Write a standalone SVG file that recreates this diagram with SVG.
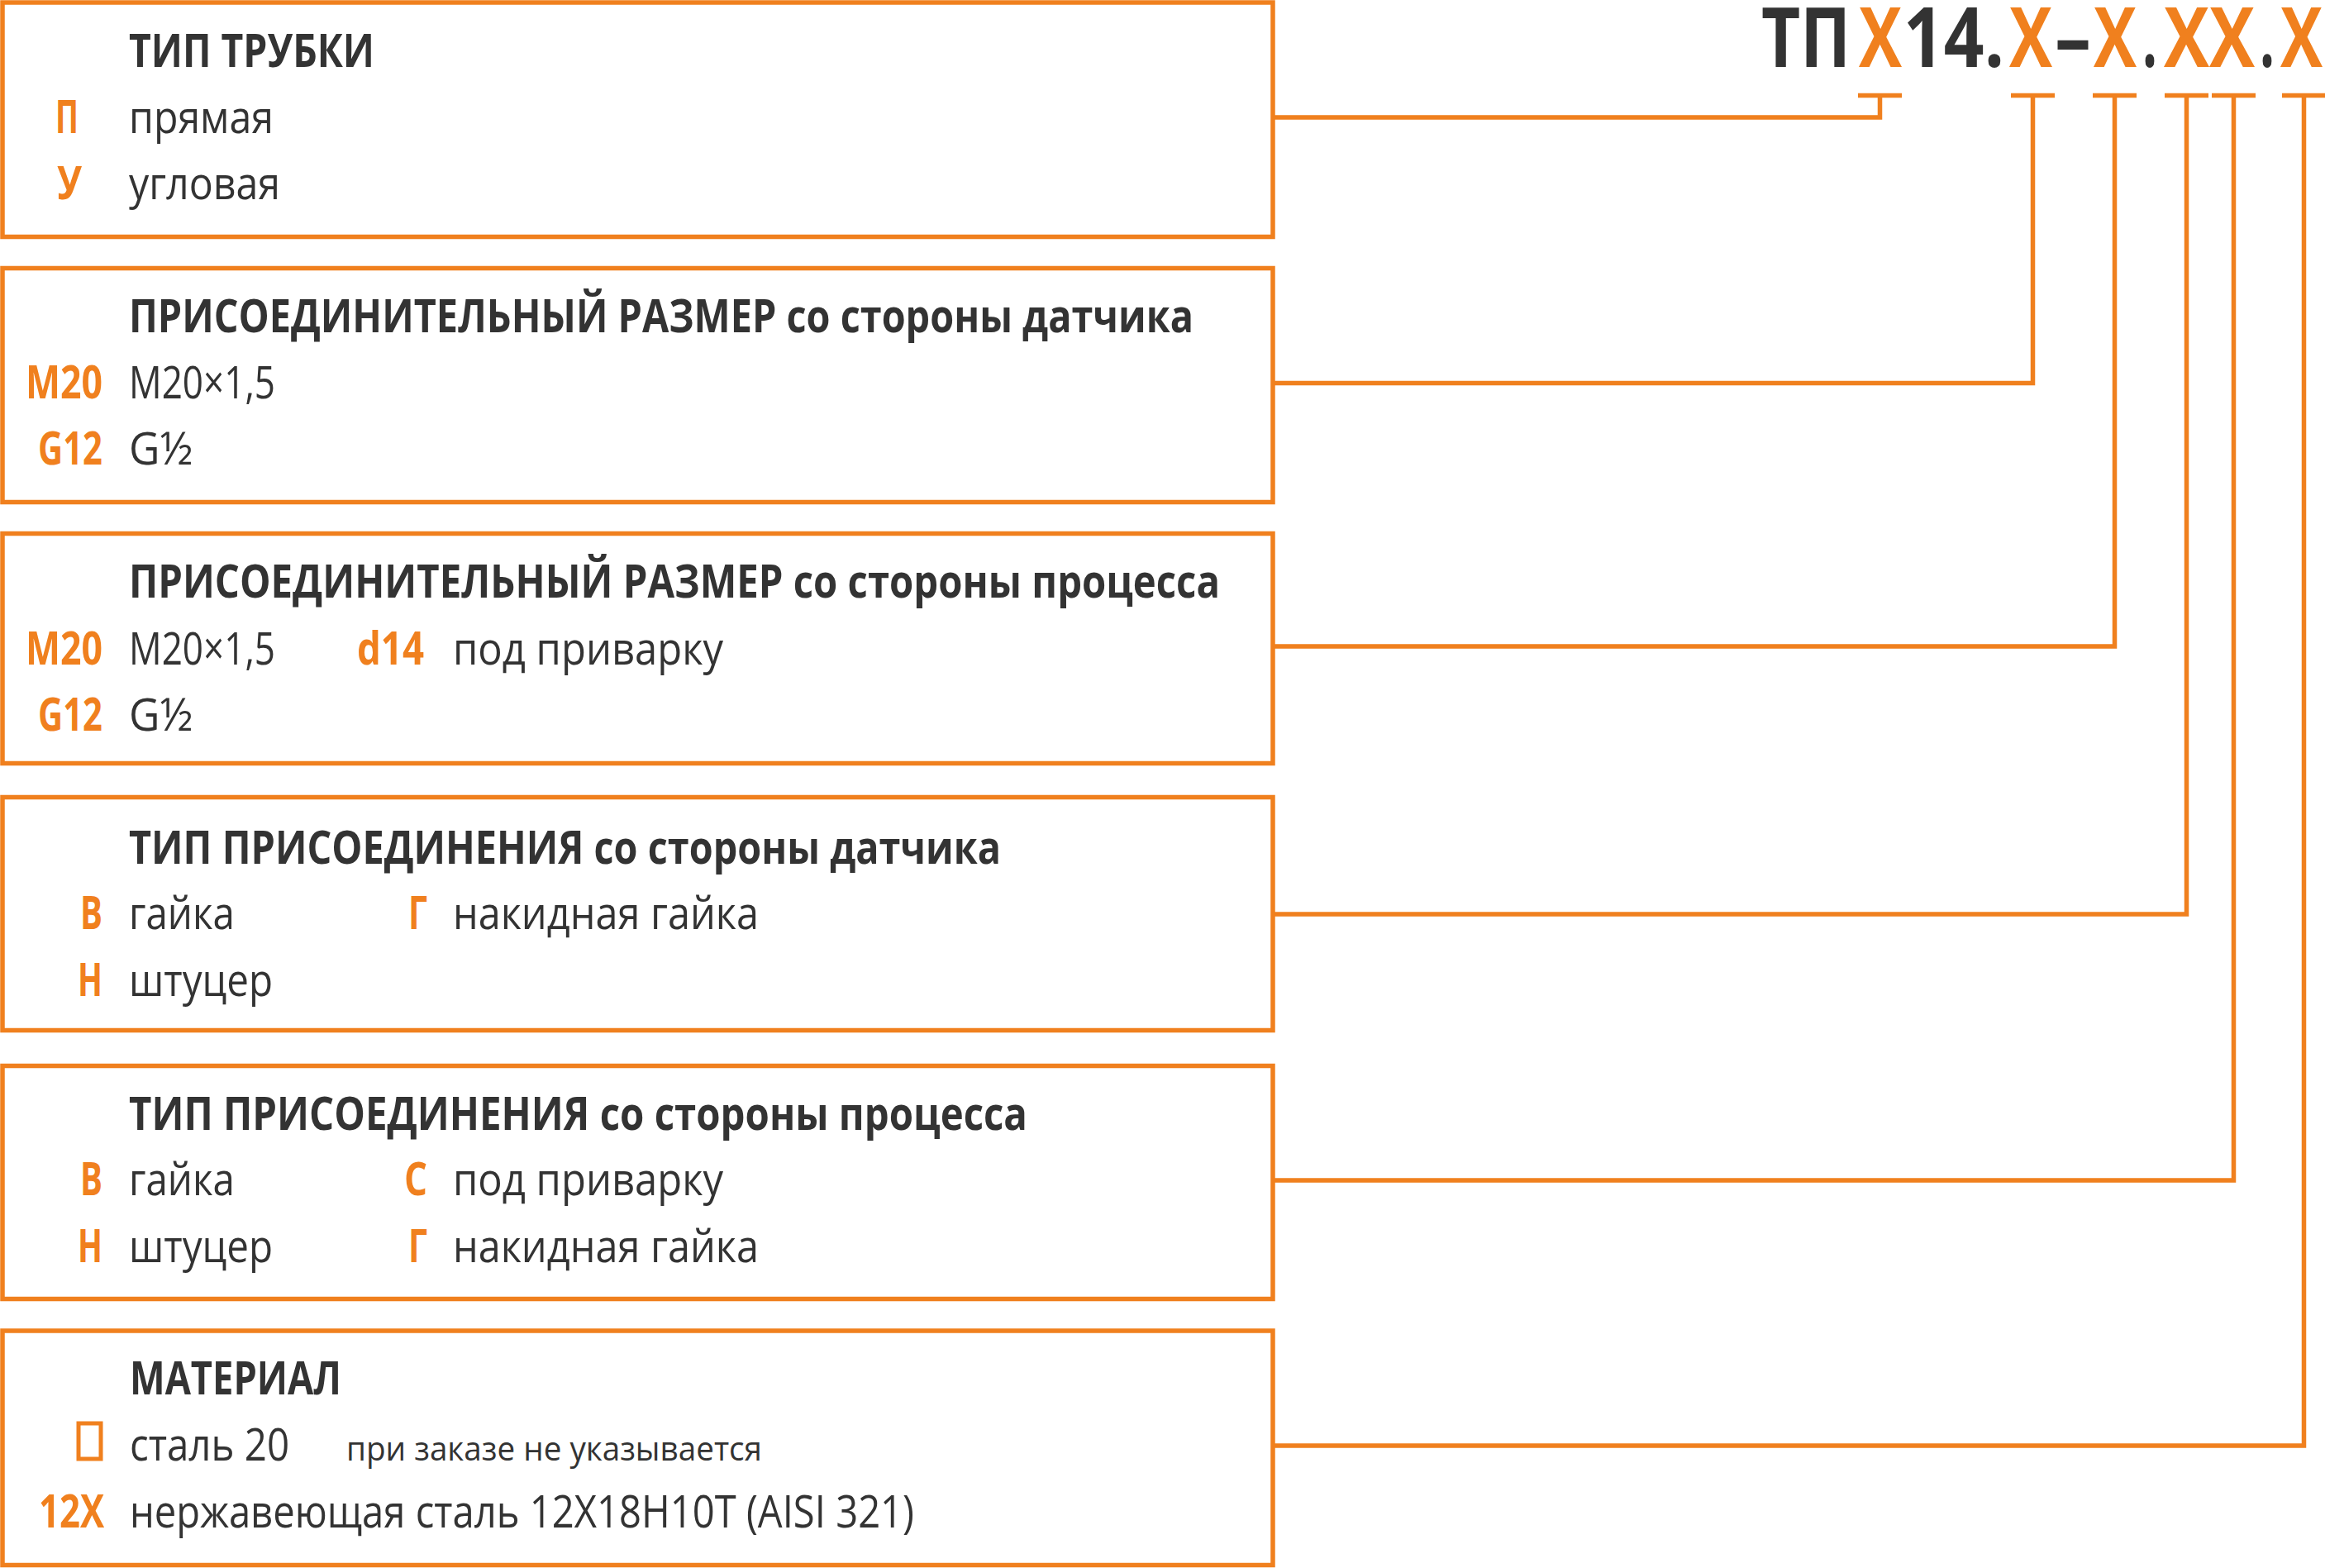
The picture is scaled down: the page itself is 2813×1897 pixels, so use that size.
<svg xmlns="http://www.w3.org/2000/svg" width="2813" height="1897" viewBox="0 0 2813 1897">
<style>
.box{fill:#fff;stroke:#F0801E;stroke-width:5.5}
.ln{fill:none;stroke:#F0801E;stroke-width:5.5}
text{font-family:"Open Sans","Noto Sans","DejaVu Sans",sans-serif;font-size:55px;fill:#333333}
.t{font-weight:bold}
.c{font-weight:bold;fill:#F0801E}
.s{font-size:40px}
.big{font-weight:bold;font-size:100px}
.o{fill:#F0801E}
</style>
<rect width="2813" height="1897" fill="#fff"/>
<g id="code">
<text class="big" x="2131" y="81" textLength="108" lengthAdjust="spacingAndGlyphs">ТП</text>
<text class="big o" x="2249" y="81" textLength="52" lengthAdjust="spacingAndGlyphs">Х</text>
<text class="big" x="2303" y="81" textLength="122" lengthAdjust="spacingAndGlyphs">14.</text>
<text class="big o" x="2431" y="81" textLength="52" lengthAdjust="spacingAndGlyphs">Х</text>
<text class="big" x="2486" y="81" textLength="44" lengthAdjust="spacingAndGlyphs">–</text>
<text class="big o" x="2533" y="81" textLength="52" lengthAdjust="spacingAndGlyphs">Х</text>
<text class="big" x="2592" y="81" textLength="18" lengthAdjust="spacingAndGlyphs">.</text>
<text class="big o" x="2618" y="81" textLength="110" lengthAdjust="spacingAndGlyphs">ХХ</text>
<text class="big" x="2734" y="81" textLength="18" lengthAdjust="spacingAndGlyphs">.</text>
<text class="big o" x="2759" y="81" textLength="51" lengthAdjust="spacingAndGlyphs">Х</text>
</g>
<g id="connectors">
<path class="ln" d="M1540 142H2274.5V115.5M2248 115.5H2301"/>
<path class="ln" d="M1540 463.5H2459.5V115.5M2433 115.5H2486"/>
<path class="ln" d="M1540 782H2558.5V115.5M2532 115.5H2585"/>
<path class="ln" d="M1540 1106H2645.5V115.5M2619 115.5H2672"/>
<path class="ln" d="M1540 1428H2702.5V115.5M2676 115.5H2729"/>
<path class="ln" d="M1540 1749H2787.5V115.5M2761 115.5H2814"/>
</g>
<g id="box1">
<rect class="box" x="3" y="3" width="1537" height="283.5"/>
<text class="t" x="156" y="81" textLength="297" lengthAdjust="spacingAndGlyphs">ТИП ТРУБКИ</text>
<text class="c" x="67" y="161" textLength="28" lengthAdjust="spacingAndGlyphs">П</text>
<text x="156" y="161" textLength="175" lengthAdjust="spacingAndGlyphs">прямая</text>
<text class="c" x="69" y="241" textLength="30" lengthAdjust="spacingAndGlyphs">У</text>
<text x="156" y="241" textLength="183" lengthAdjust="spacingAndGlyphs">угловая</text>
</g>
<g id="box2">
<rect class="box" x="3" y="324.5" width="1537" height="283"/>
<text class="t" x="156" y="402" textLength="1288" lengthAdjust="spacingAndGlyphs">ПРИСОЕДИНИТЕЛЬНЫЙ РАЗМЕР со стороны датчика</text>
<text class="c" x="31" y="482" textLength="93" lengthAdjust="spacingAndGlyphs">M20</text>
<text x="156" y="482" textLength="177" lengthAdjust="spacingAndGlyphs">M20×1,5</text>
<text class="c" x="46" y="562" textLength="78" lengthAdjust="spacingAndGlyphs">G12</text>
<text x="156" y="562" textLength="77" lengthAdjust="spacingAndGlyphs">G½</text>
</g>
<g id="box3">
<rect class="box" x="3" y="645.5" width="1537" height="278"/>
<text class="t" x="156" y="723" textLength="1320" lengthAdjust="spacingAndGlyphs">ПРИСОЕДИНИТЕЛЬНЫЙ РАЗМЕР со стороны процесса</text>
<text class="c" x="31" y="804" textLength="93" lengthAdjust="spacingAndGlyphs">M20</text>
<text x="156" y="804" textLength="177" lengthAdjust="spacingAndGlyphs">M20×1,5</text>
<text class="c" x="432" y="804" textLength="81" lengthAdjust="spacingAndGlyphs">d14</text>
<text x="548" y="804" textLength="327" lengthAdjust="spacingAndGlyphs">под приварку</text>
<text class="c" x="46" y="884" textLength="78" lengthAdjust="spacingAndGlyphs">G12</text>
<text x="156" y="884" textLength="77" lengthAdjust="spacingAndGlyphs">G½</text>
</g>
<g id="box4">
<rect class="box" x="3" y="964.5" width="1537" height="282"/>
<text class="t" x="156" y="1045" textLength="1055" lengthAdjust="spacingAndGlyphs">ТИП ПРИСОЕДИНЕНИЯ со стороны датчика</text>
<text class="c" x="97" y="1124" textLength="27" lengthAdjust="spacingAndGlyphs">В</text>
<text x="156" y="1124" textLength="128" lengthAdjust="spacingAndGlyphs">гайка</text>
<text class="c" x="494" y="1124" textLength="23" lengthAdjust="spacingAndGlyphs">Г</text>
<text x="548" y="1124" textLength="370" lengthAdjust="spacingAndGlyphs">накидная гайка</text>
<text class="c" x="94" y="1205" textLength="30" lengthAdjust="spacingAndGlyphs">Н</text>
<text x="156" y="1205" textLength="174" lengthAdjust="spacingAndGlyphs">штуцер</text>
</g>
<g id="box5">
<rect class="box" x="3" y="1289.5" width="1537" height="282"/>
<text class="t" x="156" y="1367" textLength="1087" lengthAdjust="spacingAndGlyphs">ТИП ПРИСОЕДИНЕНИЯ со стороны процесса</text>
<text class="c" x="97" y="1446" textLength="27" lengthAdjust="spacingAndGlyphs">В</text>
<text x="156" y="1446" textLength="128" lengthAdjust="spacingAndGlyphs">гайка</text>
<text class="c" x="489" y="1446" textLength="28" lengthAdjust="spacingAndGlyphs">С</text>
<text x="548" y="1446" textLength="327" lengthAdjust="spacingAndGlyphs">под приварку</text>
<text class="c" x="94" y="1527" textLength="30" lengthAdjust="spacingAndGlyphs">Н</text>
<text x="156" y="1527" textLength="174" lengthAdjust="spacingAndGlyphs">штуцер</text>
<text class="c" x="494" y="1527" textLength="23" lengthAdjust="spacingAndGlyphs">Г</text>
<text x="548" y="1527" textLength="370" lengthAdjust="spacingAndGlyphs">накидная гайка</text>
</g>
<g id="box6">
<rect class="box" x="3" y="1610" width="1537" height="283.5"/>
<text class="t" x="157" y="1687" textLength="256" lengthAdjust="spacingAndGlyphs">МАТЕРИАЛ</text>
<rect x="95" y="1722" width="27" height="43" fill="none" stroke="#F0801E" stroke-width="5"/>
<text x="157" y="1767" textLength="193" lengthAdjust="spacingAndGlyphs">сталь 20</text>
<text class="s" x="419" y="1767" textLength="503" lengthAdjust="spacingAndGlyphs">при заказе не указывается</text>
<text class="c" x="47" y="1848" textLength="79" lengthAdjust="spacingAndGlyphs">12Х</text>
<text x="157" y="1848" textLength="949" lengthAdjust="spacingAndGlyphs">нержавеющая сталь 12Х18Н10Т (AISI 321)</text>
</g>
</svg>
